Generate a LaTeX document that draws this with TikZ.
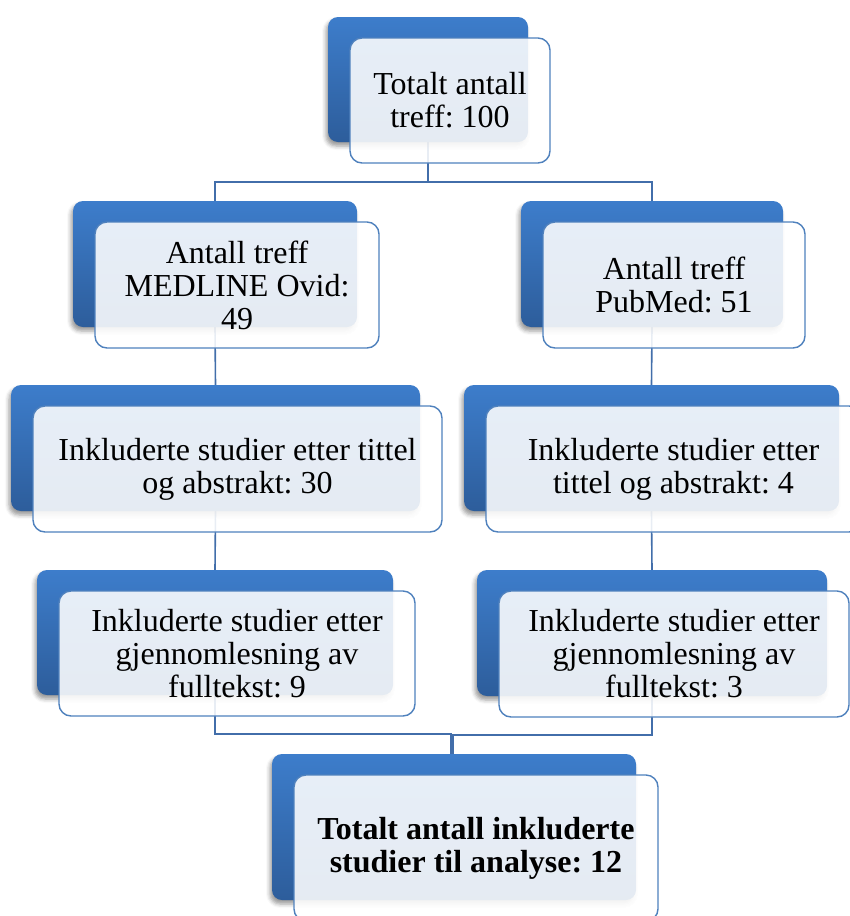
\documentclass[tikz,border=0pt]{standalone}
\usepackage{fontspec}
\setmainfont{Liberation Serif}
\usetikzlibrary{shadows.blur, calc, backgrounds}
\frenchspacing

\definecolor{boxblue}{RGB}{61,125,203}
\definecolor{boxdark}{RGB}{45,93,155}
\definecolor{rimblue}{RGB}{79,129,189}
\definecolor{linkblue}{RGB}{66,110,170}

\begin{document}
\begin{tikzpicture}[x=1pt, y=-1pt,
  boxsize/.style 2 args={minimum width=#1pt, minimum height=#2pt},
  back node/.style={rectangle, rounded corners=10pt, top color=boxblue,
    bottom color=boxdark, inner sep=0pt,
    blur shadow={shadow xshift=-2pt, shadow yshift=-4pt, shadow blur radius=4pt}},
  front node/.style={rectangle, rounded corners=12pt, draw=rimblue,
    line width=1.4pt, fill=white, fill opacity=0.88, text opacity=1,
    inner sep=0pt, align=center, font=\fontsize{32}{33}\selectfont},
  link/.style={draw=linkblue, line width=1.6pt}]
  \useasboundingbox (0,0) rectangle (850,916);
  \clip (0,0) rectangle (850,916);

  % back boxes
  \node[back node, boxsize={200}{125}] (top-b) at (428,79.5) {};
  \node[back node, boxsize={284}{126}] (med-b) at (215,264) {};
  \node[back node, boxsize={262}{126}] (pub-b) at (652,264) {};
  \node[back node, boxsize={409}{126}] (tit1-b) at (215.5,448) {};
  \node[back node, boxsize={375}{126}] (tit2-b) at (651.5,448) {};
  \node[back node, boxsize={356}{125}] (full1-b) at (215,632.5) {};
  \node[back node, boxsize={350}{126}] (full2-b) at (652,633) {};
  \node[back node, boxsize={364}{146}] (sum-b) at (454,827) {};

  % front boxes with text
  \node[front node, boxsize={200}{125}] (top) at ($(top-b)+(22,21)$)
    {Totalt antall\\treff: 100};
  \node[front node, boxsize={284}{126}] (med) at ($(med-b)+(22,21)$)
    {Antall treff\\MEDLINE Ovid:\\49};
  \node[front node, boxsize={262}{126}] (pub) at ($(pub-b)+(22,21)$)
    {Antall treff\\PubMed: 51};
  \node[front node, boxsize={409}{126}] (tit1) at ($(tit1-b)+(22,21)$)
    {Inkluderte studier etter tittel\\og abstrakt: 30};
  \node[front node, boxsize={375}{126}] (tit2) at ($(tit2-b)+(22,21)$)
    {Inkluderte studier etter\\tittel og abstrakt: 4};
  \node[front node, boxsize={356}{125}] (full1) at ($(full1-b)+(22,21)$)
    {Inkluderte studier etter\\gjennomlesning av\\fulltekst: 9};
  \node[front node, boxsize={350}{126}] (full2) at ($(full2-b)+(22,21)$)
    {Inkluderte studier etter\\gjennomlesning av\\fulltekst: 3};
  \node[front node, boxsize={364}{146}, font=\fontsize{32}{33}\selectfont\bfseries]
    (sum) at ($(sum-b)+(22,21)$)
    {Totalt antall inkluderte\\studier til analyse: 12};

  % connectors
  \begin{scope}[on background layer]
    \path[link] (top-b.south) -- ++(0,40) -| (med-b.north);
    \path[link] (top-b.south) -- ++(0,40) -| (pub-b.north);
    \foreach \s/\t in {med-b/tit1-b, tit1-b/full1-b, pub-b/tit2-b, tit2-b/full2-b} {
      \path[link] (\s.south) -- (\t.north);}
    \path[link] (full1-b.south) -- ++(0,39) -| ([xshift=-3pt]sum-b.north);
    \path[link] (full2-b.south) -- ++(0,39) -| ([xshift=-1pt]sum-b.north);
  \end{scope}
\end{tikzpicture}
\end{document}
